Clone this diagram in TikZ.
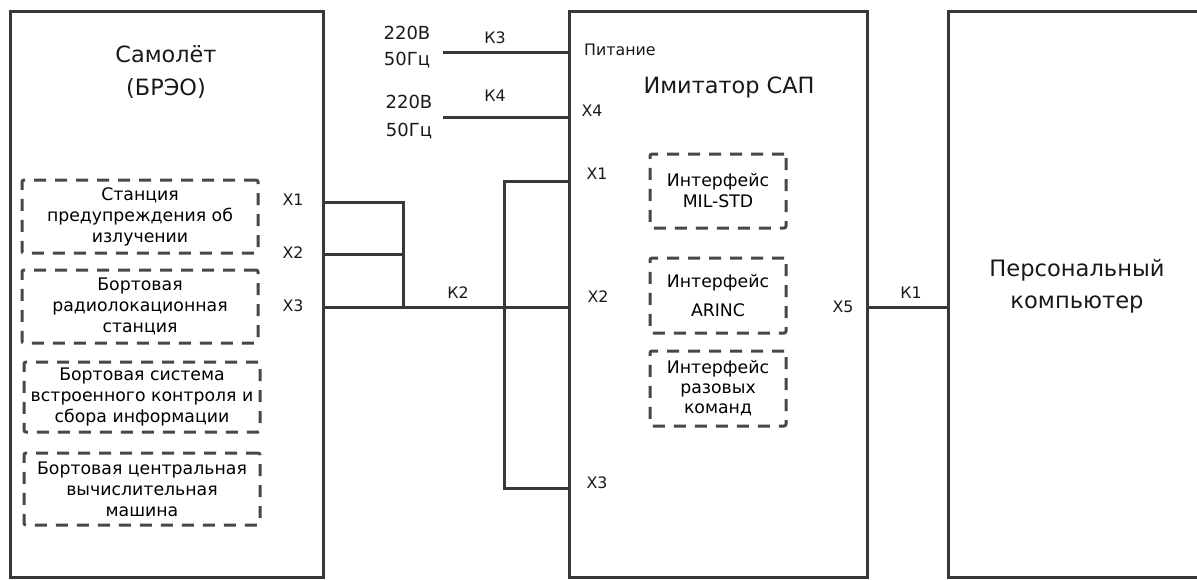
\documentclass[tikz,border=0pt]{standalone}
\usepackage{fontspec}
\setmainfont{DejaVu Sans}
\begin{document}
\begin{tikzpicture}[x=1pt,y=-1pt,
  bigbox/.style={draw=black!78, line width=3pt, inner sep=0pt},
  dbox/.style={draw=black!72, line width=3pt, dash pattern=on 12pt off 9pt, rounded corners=2pt, inner sep=0pt, align=center, font=\fontsize{17.3}{21}\selectfont},
  wire/.style={draw=black!78, line width=3pt},
  lbl/.style={inner sep=0pt, font=\fontsize{15.8}{20}\selectfont, text=black!90},
  title/.style={inner sep=0pt, align=center, font=\fontsize{22.4}{33}\selectfont, text=black!90}]
\useasboundingbox (0,0) rectangle (1197,579);
% big boxes
\node[bigbox, minimum width=313pt, minimum height=566pt] (L) at (166.5,294) {};
\node[bigbox, minimum width=298pt, minimum height=566pt] (M) at (718,294) {};
\node[bigbox, minimum width=264pt, minimum height=566pt] (R) at (1080,294) {};
% titles
\node[title] (Lt) at (166,72) {Самолёт\\(БРЭО)};
\node[title] (Mt) at (729,88) {Имитатор САП};
\node[title, font=\fontsize{22.6}{32}\selectfont] (Rt) at (1077,286) {Персональный\\компьютер};
% left dashed boxes
\node[dbox, minimum width=236pt, minimum height=73pt] (d1) at (140,216.5) {Станция\\предупреждения об\\излучении};
\node[dbox, minimum width=236pt, minimum height=73pt] (d2) at (140,306.5) {Бортовая\\радиолокационная\\станция};
\node[dbox, minimum width=236pt, minimum height=70pt] (d3) at (142,397) {Бортовая система\\встроенного контроля и\\сбора информации};
\node[dbox, minimum width=236pt, minimum height=72pt] (d4) at (142,489) {Бортовая центральная\\вычислительная\\машина};
% interface boxes
\node[dbox, minimum width=136pt, minimum height=74pt] (i1) at (718,191) {Интерфейс\\MIL-STD};
\node[dbox, minimum width=136pt, minimum height=75pt, font=\fontsize{17.3}{29}\selectfont] (i2) at (718,295.5) {Интерфейс\\ARINC};
\node[dbox, minimum width=136pt, minimum height=75pt, font=\fontsize{17.3}{20}\selectfont] (i3) at (718,388.5) {Интерфейс\\разовых\\команд};
% port labels
\node[lbl] (lx1) at (293,200) {X1};
\node[lbl] (lx2) at (293,253) {X2};
\node[lbl] (lx3) at (293,306) {X3};
\node[lbl, anchor=west] (pit) at (584,50) {Питание};
\node[lbl] (mx4) at (592,111) {X4};
\node[lbl] (mx1) at (597,174) {X1};
\node[lbl] (mx2) at (598,297) {X2};
\node[lbl] (mx3) at (597,483) {X3};
\node[lbl] (mx5) at (843,307) {X5};
\node[lbl] (k1) at (911,293) {К1};
\node[lbl] (k2) at (458,293) {К2};
\node[lbl] (k3) at (495,38) {К3};
\node[lbl] (k4) at (495,96) {К4};
\node[lbl, align=center, font=\fontsize{18}{26}\selectfont] (v1) at (407,47) {220В\\50Гц};
\node[lbl, align=center, font=\fontsize{18}{28}\selectfont] (v2) at (409,117) {220В\\50Гц};
% connection points
\coordinate (pa) at (0,202);
\coordinate (pb) at (0,254);
\coordinate (pc) at (0,307);
\coordinate (ja) at (403,0);
\coordinate (jb) at (504,0);
\coordinate (q1) at (0,181);
\coordinate (q3) at (0,488);
\coordinate (s1) at (443,52);
\coordinate (s2) at (443,117);
% wires
\draw[wire] (L.east |- pa) -| (ja |- pc);
\draw[wire] (L.east |- pb) -- (ja |- pb);
\draw[wire] (L.east |- pc) -- (M.west |- pc);
\draw[wire] (M.west |- q1) -| (jb |- q3) -- (M.west |- q3);
\draw[wire] (s1) -- (M.west |- s1);
\draw[wire] (s2) -- (M.west |- s2);
\draw[wire] (M.east |- pc) -- (R.west |- pc);
\end{tikzpicture}
\end{document}
